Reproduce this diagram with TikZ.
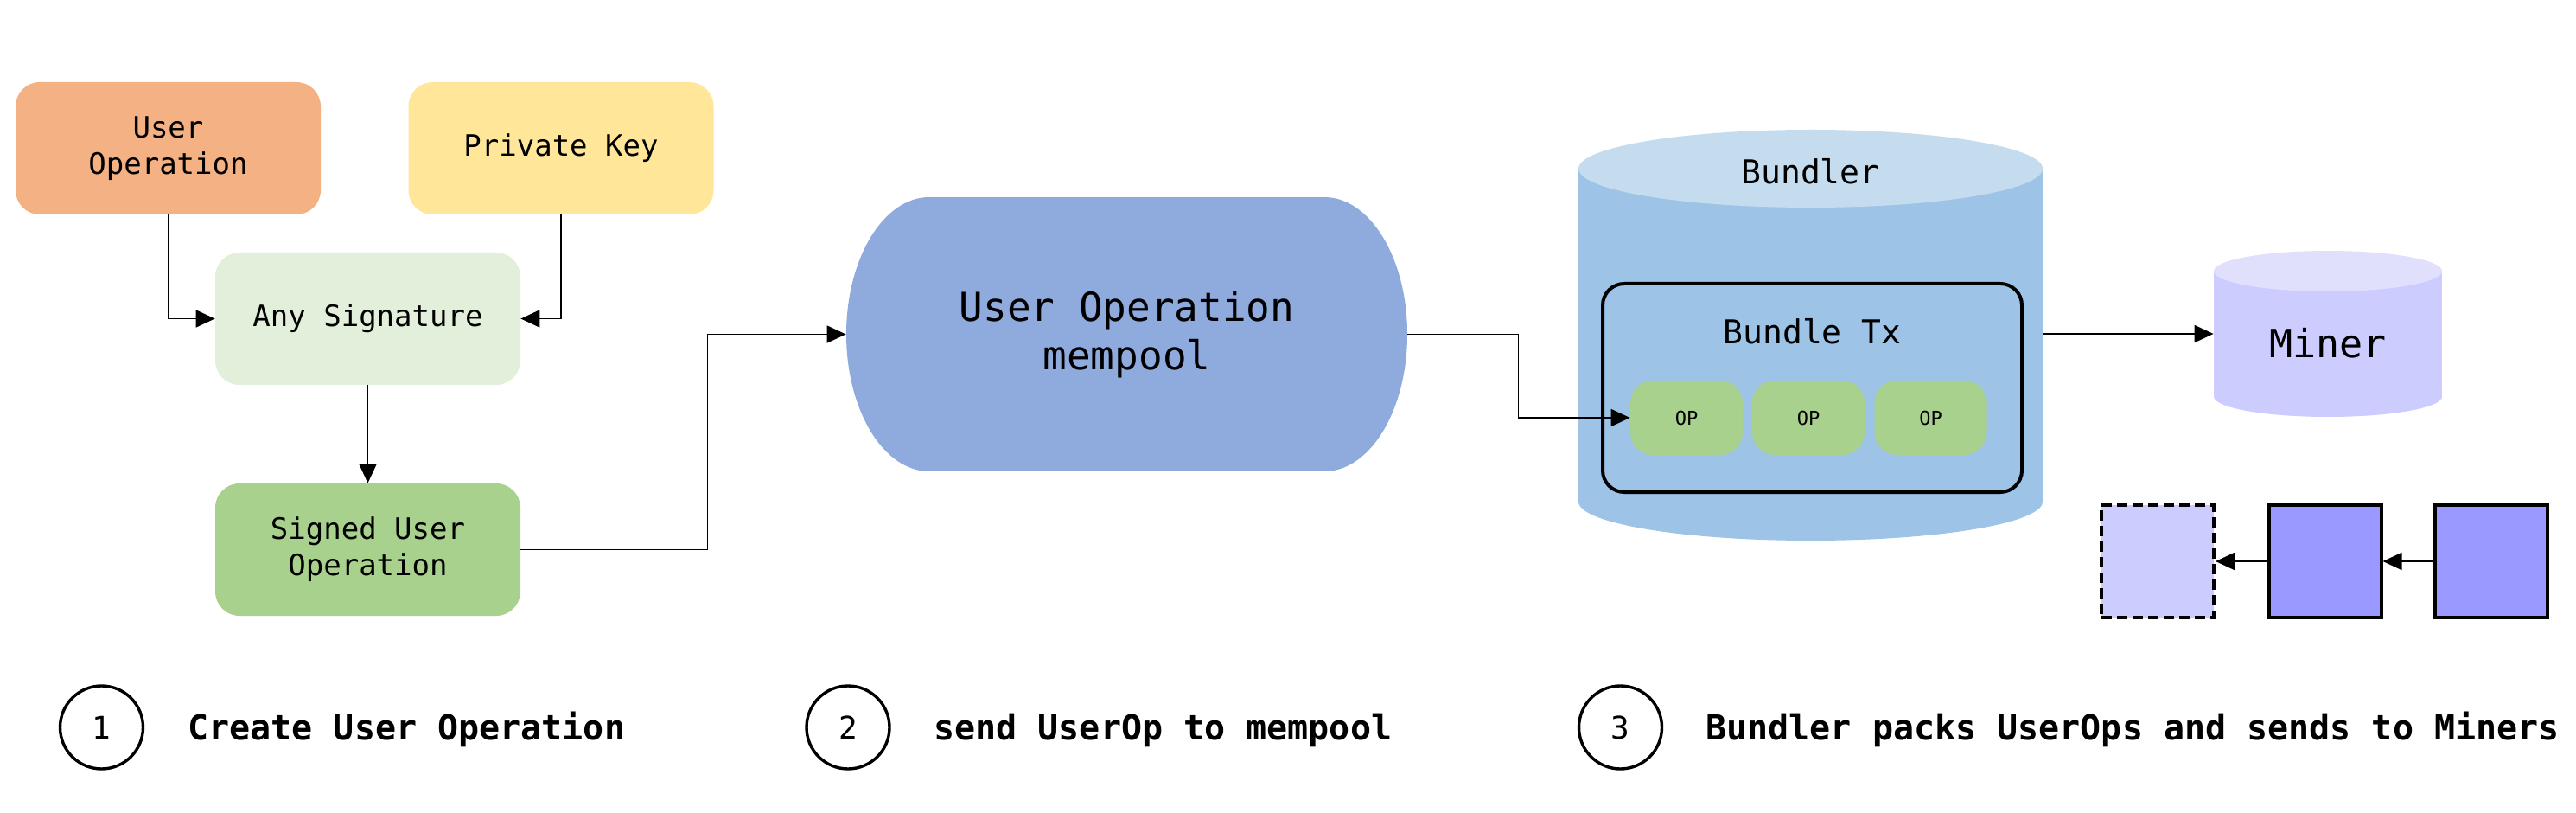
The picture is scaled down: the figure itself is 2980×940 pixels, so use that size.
\documentclass[tikz,border=0pt]{standalone}
\usepackage{fontspec}
\usetikzlibrary{arrows.meta,calc}
\newfontfamily\monof{DejaVu Sans Mono}
\definecolor{cUO}{HTML}{F4B183}
\definecolor{cPK}{HTML}{FFE699}
\definecolor{cAS}{HTML}{E2EFDA}
\definecolor{cSU}{HTML}{A9D18E}
\definecolor{cMP}{HTML}{8FAADC}
\definecolor{cBUb}{HTML}{9DC3E6}
\definecolor{cBUt}{HTML}{C5DCEE}
\definecolor{cMIb}{HTML}{CCCCFF}
\definecolor{cMIt}{HTML}{E0E0FC}
\definecolor{cBLK}{HTML}{9999FF}
\begin{document}
\begin{tikzpicture}[x=0.5pt,y=-0.5pt,
  box/.style={rounded corners=14pt, minimum width=176.5pt, minimum height=76.5pt,
    inner sep=0pt, align=center, font=\monof\fontsize{17}{21}\selectfont},
  opbox/.style={fill=cSU, rounded corners=13pt, minimum width=65pt, minimum height=43pt,
    inner sep=0pt, font=\monof\fontsize{11}{13}\selectfont},
  blk/.style={draw, line width=2pt, minimum size=65pt, inner sep=0pt},
  arr/.style={line width=0.9pt, -{Triangle[length=11pt,width=10pt]}},
  num/.style={circle, draw, line width=1.7pt, minimum size=48pt, inner sep=0pt,
    font=\monof\fontsize{18}{20}\selectfont},
  steplabel/.style={anchor=base west, inner sep=0pt, font=\monof\bfseries\fontsize{20}{24}\selectfont},
  ghost/.style={inner sep=0pt}]
\useasboundingbox (0,0) rectangle (2980,940);
\fill[white] (0,0) rectangle (2980,940);

% step 1 boxes
\node[box, fill=cUO] (UO) at (194.5,171.5) {User\\Operation};
\node[box, fill=cPK] (PK) at (649,171.5) {Private Key};
\node[box, fill=cAS] (AS) at (425.5,368.5) {Any Signature};
\node[box, fill=cSU] (SU) at (425.5,635.5) {Signed User\\Operation};

% mempool
\fill[cMP] (1075,228) rectangle (1532,545);
\fill[cMP] (1075,386.5) ellipse [x radius=96, y radius=158.5];
\fill[cMP] (1532,386.5) ellipse [x radius=96, y radius=158.5];
\node[ghost, minimum width=324.5pt, minimum height=158.5pt, align=center,
  font=\monof\fontsize{23}{28}\selectfont] (MP) at (1303.5,386.5) {User Operation\\mempool};

% bundler cylinder
\fill[cBUb] (1826,195) rectangle (2363,580);
\fill[cBUb] (2094.5,580) ellipse [x radius=268.5, y radius=45];
\fill[cBUt] (2094.5,195) ellipse [x radius=268.5, y radius=45];
\node[ghost, minimum width=268.5pt, minimum height=237.5pt] (BU) at (2094.5,386) {};
\node[font=\monof\fontsize{19}{22}\selectfont] (BUL) at (2094.5,198) {Bundler};

% bundle tx
\node[draw, line width=2pt, rounded corners=12.5pt, minimum width=242.5pt,
  minimum height=120.5pt, inner sep=0pt] (BT) at (2096.5,448.5) {};
\node[font=\monof\fontsize{19}{22}\selectfont] (BTL) at (2096.5,383) {Bundle Tx};
\node[opbox] (OP1) at (1951,483) {OP};
\node[opbox] (OP2) at (2092,483) {OP};
\node[opbox] (OP3) at (2233.5,483) {OP};

% miner cylinder
\fill[cMIb] (2561,313.5) rectangle (2825,458.5);
\fill[cMIb] (2693,458.5) ellipse [x radius=132, y radius=23.5];
\fill[cMIt] (2693,313.5) ellipse [x radius=132, y radius=23.5];
\node[ghost, minimum width=132pt, minimum height=96pt] (MI) at (2693,386) {};
\node[font=\monof\fontsize{22.5}{26}\selectfont] (MIL) at (2693,397) {Miner};

% blocks
\node[blk, dashed, dash pattern=on 6pt off 3pt, fill=cMIb] (B1) at (2496,649) {};
\node[blk, fill=cBLK] (B2) at (2689.5,649) {};
\node[blk, fill=cBLK] (B3) at (2882,649) {};

% connectors
\draw[arr] (UO.south) |- (AS.west);
\draw[arr] (PK.south) |- (AS.east);
\draw[arr] (AS.south) -- (SU.north);
\draw[arr] (SU.east) -- ++(216,0) |- (MP.west);
\draw[arr] (MP.east) -- ++(128,0) |- (OP1.west);
\draw[arr] (BU.east) -- (MI.west);
\draw[arr] (B3.west) -- (B2.east);
\draw[arr] (B2.west) -- (B1.east);

% step labels
\node[num] (N1) at (117.5,841) {1};
\node[num] (N2) at (981,841) {2};
\node[num] (N3) at (1874.5,841) {3};
\node[steplabel] (L1) at (217,855) {Create User Operation};
\node[steplabel] (L2) at (1080,855) {send UserOp to mempool};
\node[steplabel] (L3) at (1973,855) {Bundler packs UserOps and sends to Miners};
\end{tikzpicture}
\end{document}
